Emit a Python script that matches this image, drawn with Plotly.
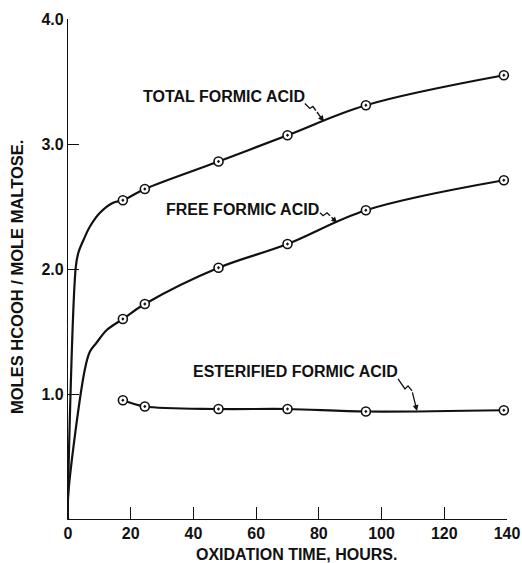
import plotly.graph_objects as go

# ---- data ----
time_h = [17.5, 24.5, 48, 70, 95, 139]
total_formic = [2.55, 2.64, 2.86, 3.07, 3.31, 3.55]
free_formic = [1.60, 1.72, 2.01, 2.20, 2.47, 2.71]
esterified_formic = [0.95, 0.90, 0.88, 0.88, 0.86, 0.87]

# early parts of the drawn curves (no measured points there)
total_early_h = [0, 0, 2.5, 3.3, 4.9, 7.0, 10.2, 14.4]
total_early = [0, 0.17, 2.02, 2.13, 2.23, 2.34, 2.45, 2.53]
free_early_h = [0, 0, 5.4, 7.0, 9.1, 12.3]
free_early = [0, 0.17, 1.20, 1.34, 1.41, 1.51]

x_ticks = [0, 20, 40, 60, 80, 100, 120, 140]
x_tick_labels = ["0", "20", "40", "60", "80", "100", "120", "140"]
y_ticks = [1.0, 2.0, 3.0, 4.0]
y_tick_labels = ["1.0", "2.0", "3.0", "4.0"]

# curve labels: text, text position, pointer tip (hours, value)
label_texts = ["TOTAL FORMIC ACID", "FREE FORMIC ACID", "ESTERIFIED FORMIC ACID"]
label_pos = [(49.8, 3.38), (55.5, 2.48), (72.7, 1.18)]
pointer_tip = [(81.6, 3.18), (85.8, 2.37), (111.3, 0.865)]

FONT = "Liberation Sans"
INK = "#111111"

fig = go.Figure()

def add_curve(xs, ys, smoothing):
    fig.add_trace(go.Scatter(
        x=xs, y=ys, mode="lines",
        line=dict(color=INK, width=2.2, shape="spline", smoothing=smoothing),
        hoverinfo="skip", showlegend=False, cliponaxis=False))

def add_points(xs, ys, name):
    fig.add_trace(go.Scatter(
        x=xs, y=ys, mode="markers", name=name,
        marker=dict(symbol="circle-dot", size=9, color="white",
                    line=dict(color=INK, width=1.6)),
        showlegend=False, cliponaxis=False))

add_curve(total_early_h + time_h, total_early + total_formic, 1.0)
add_curve(free_early_h + time_h, free_early + free_formic, 1.0)
add_curve(time_h, esterified_formic, 0.9)
add_points(time_h, total_formic, "Total formic acid")
add_points(time_h, free_formic, "Free formic acid")
add_points(time_h, esterified_formic, "Esterified formic acid")

lab_font = dict(family=FONT, size=16, color=INK, weight="bold")

# squiggly pointer shapes (pixel offsets from tip, y up) and straight arrow tail
squiggles = [
    ("M -19 18 L -14 13 L -11 15 L -8 11", -8, -11),
    ("M -17 10 L -14 7 L -10 10 L -7 7", -7, -7),
    ("M -19 32 L -12 22 L -9 25 L -5 20", -5, -20),
]
for text, (tx, ty), (px, py), (path, ax, ay) in zip(label_texts, label_pos, pointer_tip, squiggles):
    fig.add_annotation(x=tx, y=ty, text=text, showarrow=False, font=lab_font,
                       xanchor="center", yanchor="middle")
    fig.add_annotation(x=px, y=py, text="", showarrow=True, ax=ax, ay=ay,
                       arrowhead=2, arrowsize=0.9, arrowwidth=1.3, arrowcolor=INK,
                       standoff=0)
    fig.add_shape(type="path", xref="x", yref="y", xsizemode="pixel", ysizemode="pixel",
                  xanchor=px, yanchor=py, path=path,
                  line=dict(color=INK, width=1.3))

# axis titles
fig.add_annotation(x=0.5, y=0, xref="paper", yref="paper", text="OXIDATION TIME, HOURS.",
                   showarrow=False, font=lab_font, xanchor="center", yanchor="bottom",
                   borderpad=0, xshift=9, yshift=-45)
fig.add_annotation(x=0, y=0.5, xref="paper", yref="paper", text="MOLES HCOOH / MOLE MALTOSE.",
                   showarrow=False, font=dict(family=FONT, size=16.5, color=INK, weight="bold"),
                   textangle=-90, xanchor="right", yanchor="middle", xshift=-40, yshift=-8)

tick_font = dict(family=FONT, size=16, color=INK, weight="bold")
fig.update_xaxes(range=[0, 140], tickvals=x_ticks, ticktext=x_tick_labels,
                 ticks="inside", ticklen=12, tickwidth=1.2, tickcolor=INK,
                 showline=True, linecolor=INK, linewidth=1.3, showgrid=False,
                 zeroline=False, automargin=False, ticklabeloverflow="allow",
                 tickfont=tick_font)
fig.update_yaxes(range=[0, 4], tickvals=y_ticks, ticktext=y_tick_labels,
                 ticks="inside", ticklen=11, tickwidth=1.2, tickcolor=INK,
                 showline=True, linecolor=INK, linewidth=1.3, showgrid=False,
                 zeroline=False, automargin=False, ticklabeloverflow="allow",
                 tickfont=tick_font)

fig.update_layout(width=522, height=563,
                  margin=dict(l=68, r=15, t=19, b=44, autoexpand=False),
                  paper_bgcolor="white", plot_bgcolor="white", showlegend=False)

fig.write_html("out.html", config={"displayModeBar": False},
               post_script="document.body.style.margin='0';document.body.style.overflow='hidden';")
